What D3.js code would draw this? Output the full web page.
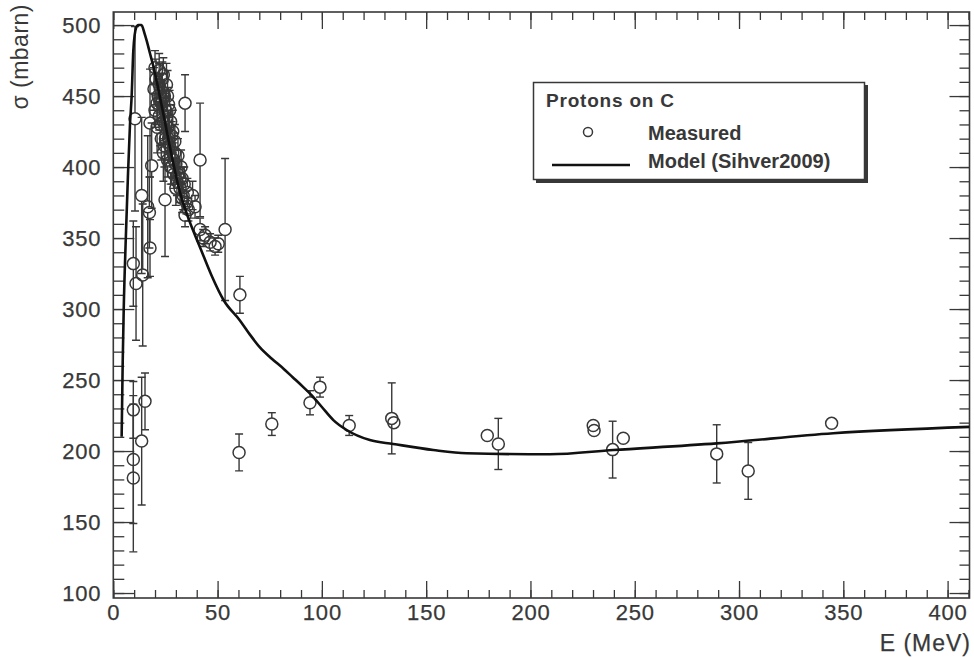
<!DOCTYPE html>
<html><head><meta charset="utf-8">
<script src="https://cdn.jsdelivr.net/npm/d3@7"></script>
<style>
html,body{margin:0;padding:0;background:#fff;}
svg{display:block;}
text{font-family:"Liberation Sans",Arial,Helvetica,sans-serif;}
</style></head><body>
<svg id="chart" width="974" height="657"></svg>
<script>
// ---------------- data ----------------
const xTicks = [0, 50, 100, 150, 200, 250, 300, 350, 400];
const yTicks = [100, 150, 200, 250, 300, 350, 400, 450, 500];
const xTitle = "E (MeV)";
const yTitle = "\u03c3 (mbarn)";
const legendTitle = "Protons on C";
const seriesNames = ["Measured", "Model (Sihver2009)"];

// Model curve (Sihver2009)
const modelE =     [4,   4.5, 5,   6,   7,   8,   8.8, 9.6, 10.9, 12,  13.5, 15,  16,  17.6, 19.2, 22,  25,  28,  32,  36,  42,  47,  53,  60.7, 65.5, 70.3, 76,  81.6, 86,  91.1, 95.9, 100, 105.5, 111.9, 123, 134.2, 153.4, 169.4, 209.3, 239.7, 289.3, 345.2, 410.5];
const modelSigma = [210, 262, 300, 350, 393, 430, 450, 482, 498,  500, 500,  494, 489, 480,  471,  452, 430, 408, 382, 364, 342, 324, 306, 292,  282,  273,  265, 258,  252, 245,  238,  231, 221.8, 214.8, 207.7, 205, 200.7, 198.4, 197.7, 200.7, 205.4, 212.5, 217];

// Measured cross sections
const measE = [
  // low energy
  10.4, 13.6, 9.6, 14.1, 10.9, 9.6, 15.2, 13.6, 9.6, 9.6, 16.5, 17.6, 18.4, 17.3, 17.6,
  // dense cluster
  19.5, 20.0, 20.5, 21.0, 21.5, 22.0, 22.0, 22.5, 23.0, 23.0, 23.5, 24.0, 24.0, 24.5, 25.0, 25.0,
  25.5, 26.0, 26.0, 26.5, 27.0, 27.5, 28.0, 28.0, 28.5, 29.0, 29.5, 30.0, 30.5, 31.0, 31.5, 32.0,
  33.0, 33.5, 35.0, 36.0, 24.8,
  21.0, 22.5, 23.5, 24.5, 25.5, 26.5, 27.0, 27.5, 28.5, 29.0, 30.0, 31.0, 32.5, 33.0, 34.0, 35.5,
  20.0, 22.0, 24.0, 26.0, 29.5, 32.0,
  // 34-55 MeV
  34.4, 34.4, 39.2, 38.0, 41.6, 41.6, 43.1, 44.0, 46.4, 48.8, 50.3, 53.6,
  // higher energies
  60.7, 60.3, 76.0, 94.3, 99.1, 113.1, 133.5, 134.5, 179.3, 184.6, 230.1, 230.5, 239.4, 244.5, 289.3, 304.4, 344.4
];
const measSigma = [
  434, 380, 332, 324, 318, 229, 235, 207, 194, 181, 372, 431, 401, 368, 343,
  455, 440, 462, 428, 450, 468, 436, 455, 420, 445, 462, 432, 410, 450, 440, 420,
  458, 428, 405, 444, 415, 432, 400, 422, 410, 395, 418, 402, 390, 408, 396, 385,
  392, 380, 375, 370, 377,
  445, 430, 448, 415, 435, 420, 440, 400, 425, 405, 385, 395, 400, 378, 388, 382,
  470, 458, 465, 450, 410, 392,
  445, 366, 372, 380, 405, 356, 350, 352, 347, 344, 346, 356,
  310, 199, 219, 234, 245, 218, 223, 220, 211, 205, 218, 214.5, 201, 209, 198, 186, 219.5
];
const measErr = [
  65, 55, 30, 50, 40, 20, 20, 45, 45, 52, 50, 38, 30, 25, 20,
  15, 12, 14, 18, 12, 12, 10, 10, 15, 12, 12, 12, 20, 10, 12, 10,
  15, 10, 12, 12, 10, 12, 12, 10, 10, 10, 12, 10, 10, 12, 8, 10,
  8, 10, 8, 8, 40,
  15, 15, 18, 15, 14, 15, 14, 12, 15, 12, 12, 10, 12, 10, 12, 10,
  12, 15, 12, 18, 14, 12,
  20, 8, 8, 10, 40, 8, 6, 6, 6, 6, 6, 50,
  13, 13, 8, 8.5, 7, 7, 25, 4, 4, 18, 3, 3, 20, 3, 20.5, 20, 4
];

// ---------------- layout ----------------
const svg = d3.select("#chart");
const W = 974, H = 657;
const plot = {left: 113.3, right: 969.5, top: 12, bottom: 598};
const ink = "#383838";

const x = d3.scaleLinear().domain([0, 410.5]).range([plot.left, plot.right]);
const y = d3.scaleLinear().domain([96.5, 509.2]).range([plot.bottom, plot.top]);

svg.append("rect").attr("width", W).attr("height", H).attr("fill", "#fff");

const xMinor = d3.range(0, 411, 10);
const yMinor = d3.range(100, 501, 10);

function styleAxis(g) {
  g.select(".domain").remove();
  g.selectAll(".tick line").attr("stroke", ink).attr("stroke-width", 1.3);
  g.selectAll("text").attr("fill", ink).attr("font-size", 22).attr("letter-spacing", 0.8)
    .attr("stroke", ink).attr("stroke-width", 0.25)
    .attr("font-family", '"Liberation Sans", Arial, sans-serif');
}

// bottom axis
svg.append("g").attr("transform", `translate(0,${plot.bottom})`)
  .call(d3.axisBottom(x).tickValues(xMinor).tickSize(-8).tickFormat(""))
  .call(styleAxis);
svg.append("g").attr("transform", `translate(0,${plot.bottom})`)
  .call(d3.axisBottom(x).tickValues(xTicks).tickSize(-17).tickPadding(5).tickFormat(d3.format("d")))
  .call(styleAxis)
  .call(g => g.selectAll("text").attr("dy", "0.78em"));
// top axis (mirror ticks)
svg.append("g").attr("transform", `translate(0,${plot.top})`)
  .call(d3.axisTop(x).tickValues(xMinor).tickSize(-8).tickFormat(""))
  .call(styleAxis);
svg.append("g").attr("transform", `translate(0,${plot.top})`)
  .call(d3.axisTop(x).tickValues(xTicks).tickSize(-17).tickFormat(""))
  .call(styleAxis);
// left axis
svg.append("g").attr("transform", `translate(${plot.left},0)`)
  .call(d3.axisLeft(y).tickValues(yMinor).tickSize(-11).tickFormat(""))
  .call(styleAxis);
svg.append("g").attr("transform", `translate(${plot.left},0)`)
  .call(d3.axisLeft(y).tickValues(yTicks).tickSize(-21).tickPadding(12).tickFormat(d3.format("d")))
  .call(styleAxis);
// right axis (mirror ticks)
svg.append("g").attr("transform", `translate(${plot.right},0)`)
  .call(d3.axisRight(y).tickValues(yMinor).tickSize(-10).tickFormat(""))
  .call(styleAxis);
svg.append("g").attr("transform", `translate(${plot.right},0)`)
  .call(d3.axisRight(y).tickValues(yTicks).tickSize(-20).tickFormat(""))
  .call(styleAxis);

// frame
svg.append("rect")
  .attr("x", plot.left).attr("y", plot.top)
  .attr("width", plot.right - plot.left).attr("height", plot.bottom - plot.top)
  .attr("fill", "none").attr("stroke", ink).attr("stroke-width", 1.6);

// axis titles
svg.append("text").attr("x", 971).attr("y", 651).attr("text-anchor", "end")
  .attr("font-size", 23).attr("letter-spacing", 1).attr("fill", ink)
  .attr("stroke", ink).attr("stroke-width", 0.25).text(xTitle);
svg.append("text").attr("transform", "translate(28,4) rotate(-90)").attr("text-anchor", "end")
  .attr("font-size", 23).attr("letter-spacing", 0.5).attr("fill", ink).text(yTitle);

// clip
svg.append("clipPath").attr("id", "clip").append("rect")
  .attr("x", plot.left).attr("y", plot.top)
  .attr("width", plot.right - plot.left).attr("height", plot.bottom - plot.top);
const gData = svg.append("g").attr("clip-path", "url(#clip)");

// measured points with error bars
const R = 6, cap = 4;
const meas = measE.map((e, i) => ({e, s: measSigma[i], err: measErr[i]}));
const gm = gData.append("g");
meas.forEach(d => {
  const cx = x(d.e), cy = y(d.s), yt = y(d.s + d.err), yb = y(d.s - d.err);
  const g = gm.append("g").attr("stroke", ink).attr("stroke-width", 1.4).attr("fill", "none");
  if (cy - yt > R) {
    g.append("line").attr("x1", cx).attr("x2", cx).attr("y1", yt).attr("y2", cy - R);
    g.append("line").attr("x1", cx - cap).attr("x2", cx + cap).attr("y1", yt).attr("y2", yt);
  }
  if (yb - cy > R) {
    g.append("line").attr("x1", cx).attr("x2", cx).attr("y1", cy + R).attr("y2", yb);
    g.append("line").attr("x1", cx - cap).attr("x2", cx + cap).attr("y1", yb).attr("y2", yb);
  }
  g.append("circle").attr("cx", cx).attr("cy", cy).attr("r", R).attr("stroke-width", 1.5);
});

// model curve
const line = d3.line().x(d => x(d[0])).y(d => y(d[1])).curve(d3.curveMonotoneX);
gData.append("path").datum(modelE.map((e, i) => [e, modelSigma[i]]))
  .attr("d", line).attr("fill", "none").attr("stroke", "#111").attr("stroke-width", 2.6);

// legend
const lg = svg.append("g");
lg.append("rect").attr("x", 536).attr("y", 85).attr("width", 332).attr("height", 98).attr("fill", ink);
lg.append("rect").attr("x", 533.5).attr("y", 82.5).attr("width", 331).attr("height", 97)
  .attr("fill", "#fff").attr("stroke", ink).attr("stroke-width", 1.5);
lg.append("text").attr("x", 546).attr("y", 107).attr("font-size", 19).attr("font-weight", "bold")
  .attr("letter-spacing", 0.8).attr("fill", ink).text(legendTitle);
lg.append("circle").attr("cx", 588).attr("cy", 132).attr("r", 4.5)
  .attr("fill", "none").attr("stroke", ink).attr("stroke-width", 1.5);
lg.append("text").attr("x", 648).attr("y", 140).attr("font-size", 20).attr("font-weight", "bold")
  .attr("fill", ink).text(seriesNames[0]);
lg.append("line").attr("x1", 552).attr("x2", 630).attr("y1", 165).attr("y2", 165)
  .attr("stroke", "#111").attr("stroke-width", 2.6);
lg.append("text").attr("x", 648).attr("y", 168).attr("font-size", 20).attr("font-weight", "bold")
  .attr("fill", ink).text(seriesNames[1]);
</script>
</body></html>
